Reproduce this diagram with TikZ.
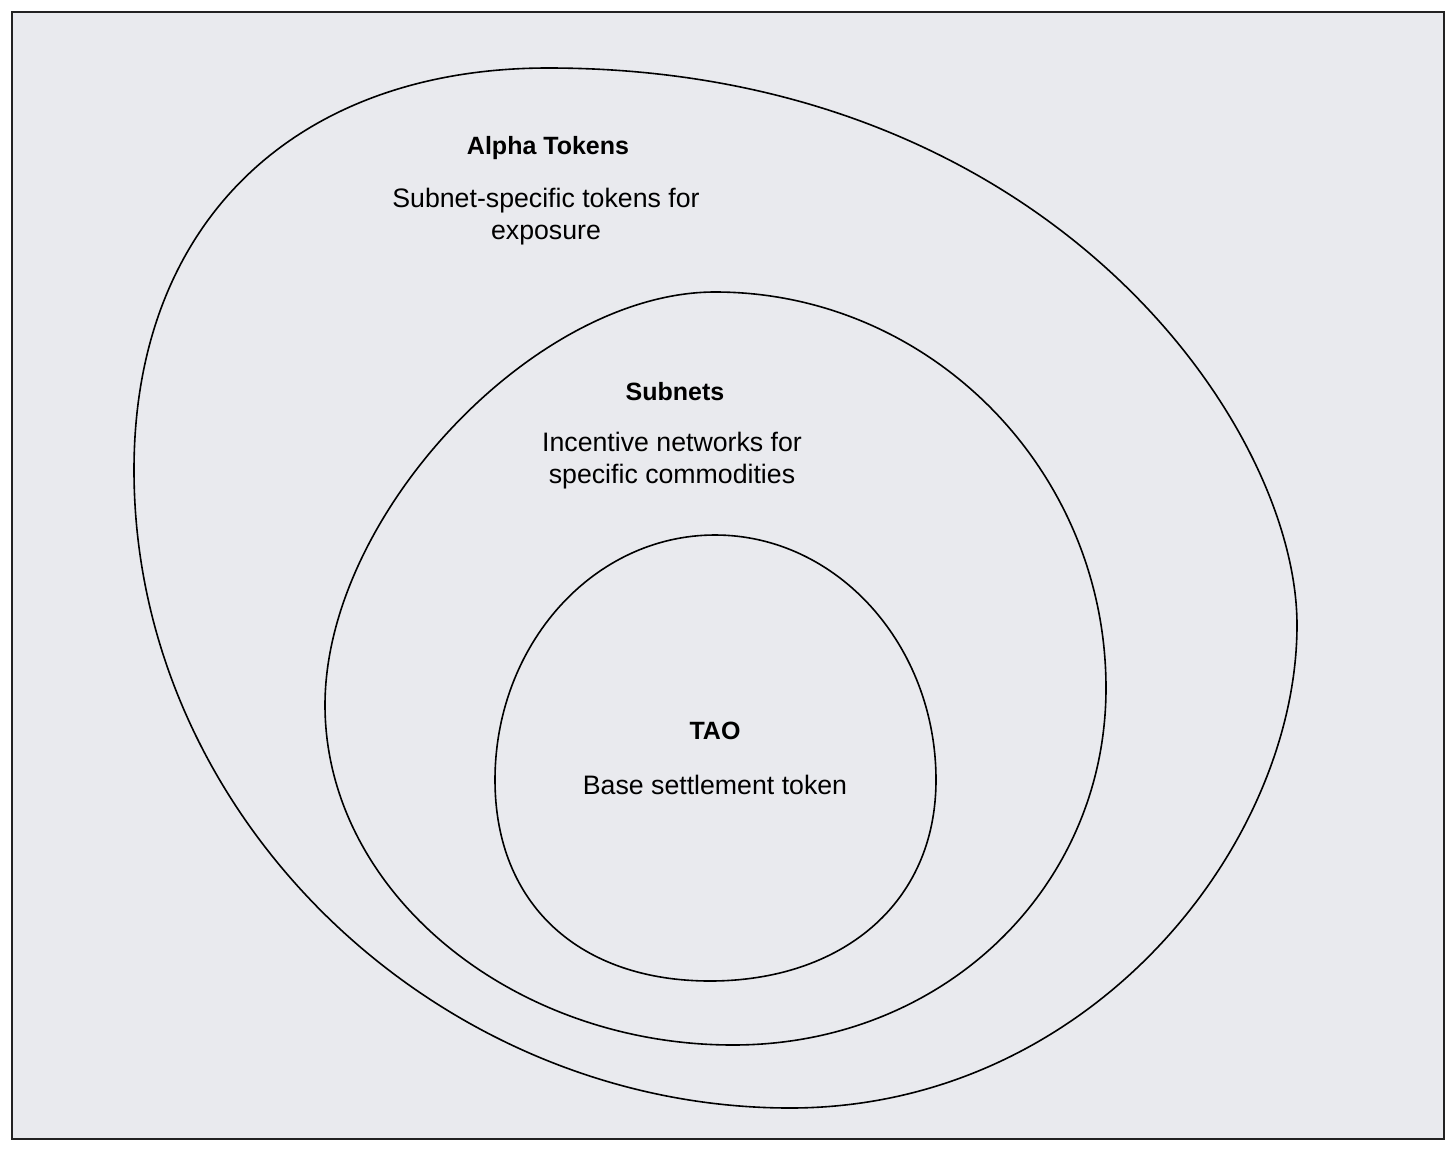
\documentclass[tikz,border=0pt]{standalone}
\usepackage{fontspec}
\setmainfont{Liberation Sans}
\usetikzlibrary{positioning}

\begin{document}
\begin{tikzpicture}[x=1pt, y=-1pt,
    blob/.style={draw=black, line width=1.6pt},
    title/.style={font=\fontsize{25}{32}\selectfont\bfseries, inner sep=0pt},
    desc/.style={font=\fontsize{26.7}{32}\selectfont, align=center, inner sep=0pt}]
    \definecolor{borderColour}{HTML}{222222}
    \definecolor{fillColour}{HTML}{E9EAEE}

    % Page and frame
    \useasboundingbox (0,0) rectangle (1456,1151);
    \fill[white] (0,0) rectangle (1456,1151);
    \draw[fill=fillColour, draw=borderColour, line width=2.6pt] (12,12) rectangle (1444,1139);

    % Outer set: alpha tokens
    \coordinate (AT) at (548,68);
    \coordinate (AR) at (1297,625);
    \coordinate (AB) at (790,1108);
    \coordinate (AL) at (134,470);
    \draw[blob] (AT) .. controls +(500,0) and +(0,-200) .. (AR)
        .. controls +(0,220) and +(300,0) .. (AB)
        .. controls +(-350,0) and +(0,350) .. (AL)
        .. controls +(0,-250) and +(-250,0) .. (AT) -- cycle;

    % Middle set: subnets
    \coordinate (ST) at (715,292);
    \coordinate (SR) at (1106,688);
    \coordinate (SB) at (733,1045);
    \coordinate (SL) at (325,705);
    \draw[blob] (ST) .. controls +(215,0) and +(0,-218) .. (SR)
        .. controls +(0,200) and +(210,0) .. (SB)
        .. controls +(-221,0) and +(0,187) .. (SL)
        .. controls +(0,-190) and +(-180,0) .. (ST) -- cycle;

    % Inner set: TAO
    \coordinate (TT) at (715,535);
    \coordinate (TR) at (936,780);
    \coordinate (TB) at (710,981);
    \coordinate (TL) at (495,780);
    \draw[blob] (TT) .. controls +(122,0) and +(0,-135) .. (TR)
        .. controls +(0,125) and +(130,0) .. (TB)
        .. controls +(-130,0) and +(0,125) .. (TL)
        .. controls +(0,-135) and +(-122,0) .. (TT) -- cycle;

    % Labels
    \node[title] (alphaTitle) at (548,148) {Alpha Tokens};
    \node[desc] (alphaDesc) at (546,217) {Subnet-specific tokens for\\exposure};
    \node[title] (subnetTitle) at (675,392) {Subnets};
    \node[desc] (subnetDesc) at (672,461) {Incentive networks for\\specific commodities};
    \node[title] (taoTitle) at (715,731) {TAO};
    \node[desc] (taoDesc) at (715,785) {Base settlement token};

\end{tikzpicture}
\end{document}
